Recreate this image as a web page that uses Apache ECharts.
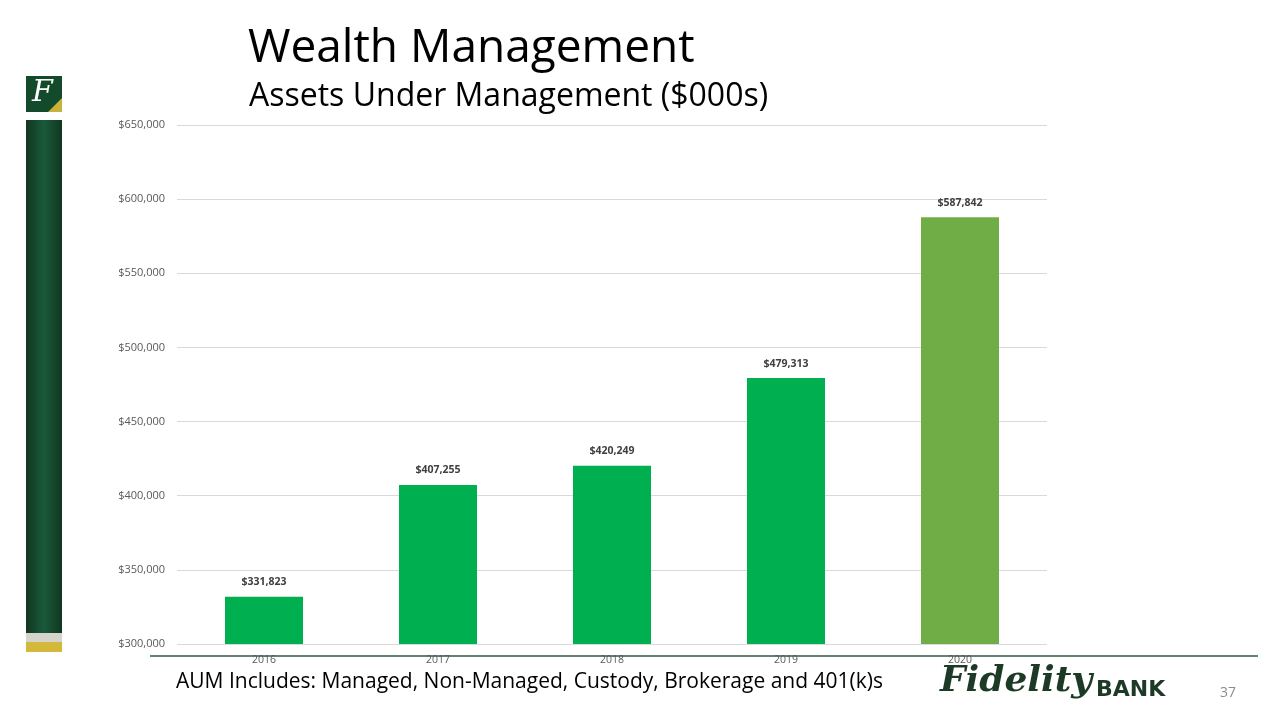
<!DOCTYPE html>
<html>
<head>
<meta charset="utf-8">
<script src="https://cdn.jsdelivr.net/npm/echarts@6/dist/echarts.min.js"></script>
<style>
html,body{margin:0;padding:0;background:#fff;}
#c{width:1280px;height:720px;}
</style>
</head>
<body>
<div id="c"></div>
<script>
const categories = ['2016', '2017', '2018', '2019', '2020'];
const aumValues = [331823, 407255, 420249, 479313, 587842];
const barColors = ['#00B050', '#00B050', '#00B050', '#00B050', '#70AD47'];
const yTicks = { min: 300000, max: 650000, interval: 50000 };

const chart = echarts.init(document.getElementById('c'));
const fmt = v => '$' + v.toLocaleString('en-US');
const font = '"Open Sans", sans-serif';

chart.setOption({
  animation: false,
  backgroundColor: '#fff',
  grid: { left: 177, right: 233, top: 125, bottom: 76 },
  xAxis: {
    type: 'category',
    data: categories,
    axisLine: { show: false },
    axisTick: { show: false },
    axisLabel: { color: '#595959', fontSize: 10.5, margin: 11, fontFamily: font }
  },
  yAxis: {
    type: 'value',
    min: yTicks.min, max: yTicks.max, interval: yTicks.interval,
    axisLine: { show: false },
    axisTick: { show: false },
    splitLine: { lineStyle: { color: '#d9d9d9', width: 1 } },
    axisLabel: { color: '#595959', fontSize: 11, margin: 12, fontFamily: font, formatter: fmt }
  },
  series: [{
    type: 'bar',
    barWidth: 78,
    data: aumValues.map((v, i) => ({ value: v, itemStyle: { color: barColors[i] } })),
    label: {
      show: true, position: 'top', distance: 9,
      color: '#404040', fontSize: 10.5, fontWeight: 'bold', fontFamily: font,
      formatter: p => fmt(p.value)
    }
  }],
  graphic: [
    { type: 'text', left: 248, top: 26, style: { text: 'Wealth Management', font: '46px ' + font, fill: '#000' } },
    { type: 'text', left: 249, top: 81, style: { text: 'Assets Under Management ($000s)', font: '32px ' + font, fill: '#000' } },
    // left decorative bar
    { type: 'rect', shape: { x: 26, y: 76, width: 36, height: 36 }, style: { fill: '#134a2c' } },
    { type: 'polygon', shape: { points: [[62, 98], [62, 112], [48, 112]] }, style: { fill: '#c9b23a' } },
    { type: 'text', left: 32, top: 78, style: { text: 'F', font: 'italic 30px "DejaVu Serif", serif', fill: '#fff' } },
    { type: 'rect', shape: { x: 26, y: 120, width: 36, height: 513 },
      style: { fill: { type: 'linear', x: 0, y: 0, x2: 1, y2: 0, colorStops: [
        { offset: 0, color: '#11361f' }, { offset: 0.5, color: '#1a5a3a' }, { offset: 1, color: '#11361f' } ] } } },
    { type: 'rect', shape: { x: 26, y: 633, width: 36, height: 9 }, style: { fill: '#d4d4cc' } },
    { type: 'rect', shape: { x: 26, y: 642, width: 36, height: 10 }, style: { fill: '#d4b83a' } },
    // bottom rule
    { type: 'line', shape: { x1: 150, y1: 656, x2: 1258, y2: 656 }, style: { stroke: '#2f5a40', lineWidth: 1.5 } },
    { type: 'text', left: 176, top: 672, style: { text: 'AUM Includes: Managed, Non-Managed, Custody, Brokerage and 401(k)s', font: '21px ' + font, fill: '#000' } },
    // logo
    { type: 'text', left: 940, top: 664, style: { text: 'Fidelity', font: 'italic bold 36px "DejaVu Serif", serif', fill: '#1c3a26' } },
    { type: 'text', left: 1096, top: 679, style: { text: 'BANK', font: 'bold 22px "DejaVu Sans", sans-serif', fill: '#1c3a26' } },
    { type: 'text', left: 1220, top: 686, style: { text: '37', font: '14px ' + font, fill: '#8c8c8c' } }
  ]
});
</script>
</body>
</html>
